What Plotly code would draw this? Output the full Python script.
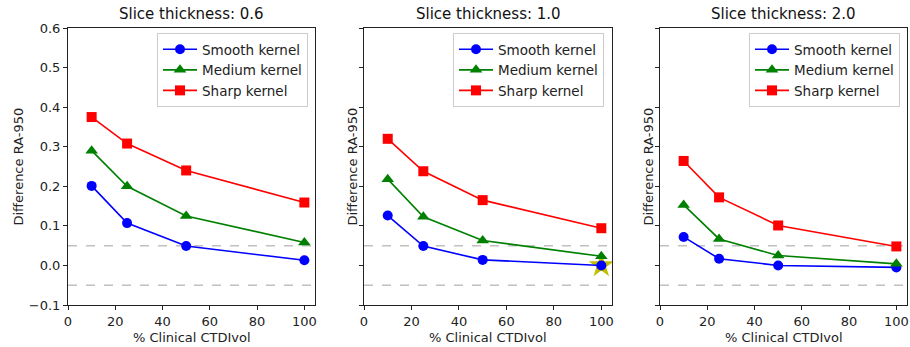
import plotly.graph_objects as go

dose = [10, 25, 50, 100]
titles = ["Slice thickness: 0.6", "Slice thickness: 1.0", "Slice thickness: 2.0"]

smooth = [
    [0.201, 0.107, 0.049, 0.013],
    [0.126, 0.049, 0.014, 0.000],
    [0.072, 0.017, 0.000, -0.005],
]
medium = [
    [0.290, 0.200, 0.125, 0.058],
    [0.218, 0.123, 0.063, 0.023],
    [0.153, 0.067, 0.025, 0.004],
]
sharp = [
    [0.375, 0.308, 0.240, 0.159],
    [0.320, 0.238, 0.165, 0.094],
    [0.264, 0.172, 0.101, 0.048],
]
star_x = [100]
star_y = [0.0]
threshold = [0.05, -0.05]

W, H = 910, 347
xdomains = [(68 / W, 315 / W), (364 / W, 612 / W), (660 / W, 907 / W)]
ydomain = (1 - 305 / H, 1 - 28 / H)
legend_right = [308, 604, 900]

font = "DejaVu Sans, Liberation Sans, sans-serif"
fig = go.Figure()

series = [
    ("Smooth kernel", smooth, "#0000ff", "circle", 10),
    ("Medium kernel", medium, "#008000", "triangle-up", 11),
    ("Sharp kernel", sharp, "#ff0000", "square", 10),
]

for i in range(3):
    sfx = "" if i == 0 else str(i + 1)
    xa = "x" + sfx
    ya = "y" + sfx
    lg = "legend" + sfx
    if i == 1:
        fig.add_trace(go.Scatter(
            x=star_x, y=star_y, mode="markers", xaxis=xa, yaxis=ya,
            marker=dict(symbol="star", size=19, color="#bfbf00"),
            showlegend=False, hoverinfo="skip"))
    for name, data, color, sym, ms in series:
        fig.add_trace(go.Scatter(
            x=dose, y=data[i], name=name, mode="lines+markers",
            xaxis=xa, yaxis=ya, legend=lg,
            line=dict(color=color, width=1.6),
            marker=dict(symbol=sym, size=ms, color=color)))
    axis_common = dict(
        showline=True, linecolor="#222", linewidth=1, mirror=True,
        ticks="outside", ticklen=4, tickcolor="#222", showgrid=False,
        zeroline=False, automargin=False,
        tickfont=dict(size=13, color="#222", family=font))
    fig.update_layout(**{
        "xaxis" + sfx: dict(domain=list(xdomains[i]), range=[0, 104.5],
                            tickvals=[0, 20, 40, 60, 80, 100], anchor=ya,
                            **axis_common),
        "yaxis" + sfx: dict(domain=list(ydomain), range=[-0.1, 0.6],
                            tickvals=[-0.1, 0, 0.1, 0.2, 0.3, 0.4, 0.5, 0.6],
                            ticktext=["\u22120.1", "0.0", "0.1", "0.2", "0.3", "0.4", "0.5", "0.6"],
                            showticklabels=(i == 0), anchor=xa, **axis_common),
        lg: dict(x=legend_right[i] / W, xanchor="right", y=1 - 33 / H, yanchor="top",
                 bgcolor="rgba(255,255,255,0.9)", bordercolor="#cccccc", borderwidth=1,
                 font=dict(size=13.5, color="#222", family=font),
                 tracegroupgap=0, itemwidth=34),
    })
    for t in threshold:
        fig.add_shape(type="line", xref=xa + " domain", yref=ya, x0=0, x1=1, y0=t, y1=t,
                      line=dict(color="rgba(150,150,150,0.6)", width=1.5, dash="dash"),
                      layer="below")
    xc = (xdomains[i][0] + xdomains[i][1]) / 2
    fig.add_annotation(text=titles[i], xref="paper", yref="paper", x=xc, y=1 - 14 / H,
                       xanchor="center", yanchor="middle", showarrow=False,
                       font=dict(size=15, color="#111", family=font))
    fig.add_annotation(text="% Clinical CTDIvol", xref="paper", yref="paper", x=xc,
                       y=1 - 337 / H, xanchor="center", yanchor="middle", showarrow=False,
                       font=dict(size=13, color="#222", family=font))
    ytx = [18, 352, 648][i]
    fig.add_annotation(text="Difference RA-950", xref="paper", yref="paper", x=ytx / W,
                       y=(ydomain[0] + ydomain[1]) / 2, xanchor="center", yanchor="middle",
                       textangle=-90, showarrow=False,
                       font=dict(size=13, color="#222", family=font))

fig.update_layout(width=W, height=H, margin=dict(l=0, r=0, t=0, b=0),
                  paper_bgcolor="white", plot_bgcolor="white",
                  font=dict(family=font))
fig.write_html("out.html", config={"displayModeBar": False},
               post_script="document.body.style.margin='0';document.body.style.overflow='hidden';")
